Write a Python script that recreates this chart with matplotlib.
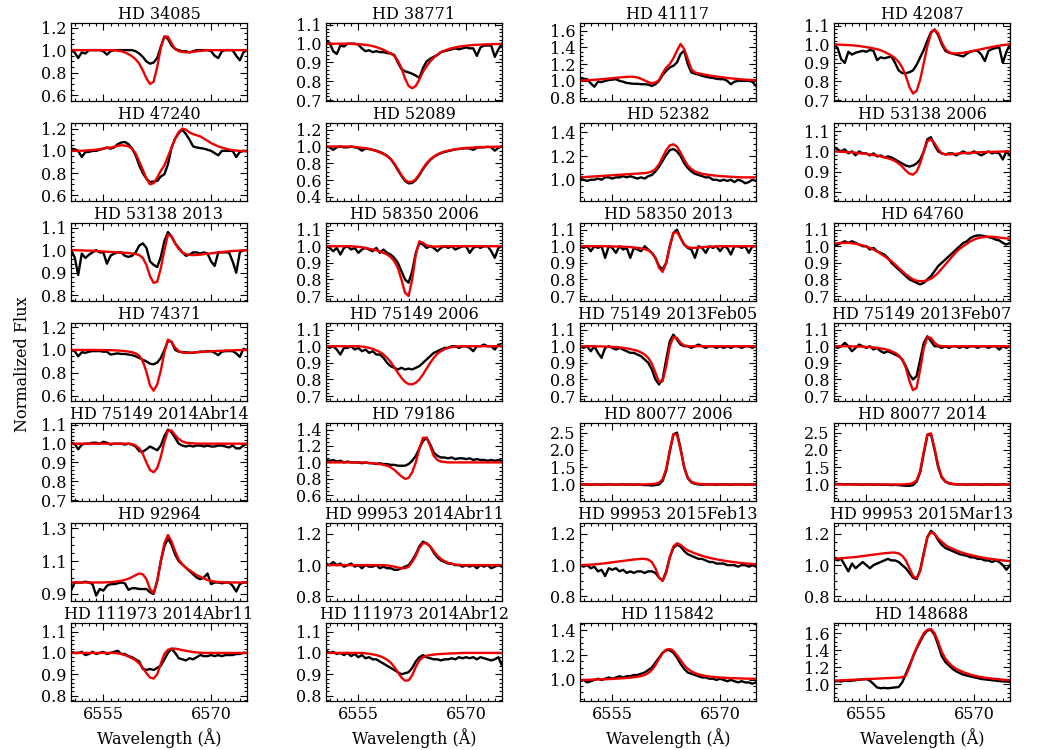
import matplotlib
matplotlib.use("Agg")
import matplotlib.pyplot as plt
from matplotlib.ticker import AutoMinorLocator, MultipleLocator, FormatStrFormatter

plt.rcParams['font.family'] = ['DejaVu Serif']

WAVE = [6550.5, 6551.0, 6551.5, 6552.0, 6552.5, 6553.0, 6553.5, 6554.0, 6554.5, 6555.0,
        6555.5, 6556.0, 6556.5, 6557.0, 6557.5, 6558.0, 6558.5, 6559.0, 6559.5, 6560.0,
        6560.5, 6561.0, 6561.5, 6562.0, 6562.5, 6563.0, 6563.5, 6564.0, 6564.5, 6565.0,
        6565.5, 6566.0, 6566.5, 6567.0, 6567.5, 6568.0, 6568.5, 6569.0, 6569.5, 6570.0,
        6570.5, 6571.0, 6571.5, 6572.0, 6572.5, 6573.0, 6573.5, 6574.0, 6574.5, 6575.0]

TITLES = ["HD 34085", "HD 38771", "HD 41117", "HD 42087",
          "HD 47240", "HD 52089", "HD 52382", "HD 53138 2006",
          "HD 53138 2013", "HD 58350 2006", "HD 58350 2013", "HD 64760",
          "HD 74371", "HD 75149 2006", "HD 75149 2013Feb05", "HD 75149 2013Feb07",
          "HD 75149 2014Abr14", "HD 79186", "HD 80077 2006", "HD 80077 2014",
          "HD 92964", "HD 99953 2014Abr11", "HD 99953 2015Feb13", "HD 99953 2015Mar13",
          "HD 111973 2014Abr11", "HD 111973 2014Abr12", "HD 115842", "HD 148688"]

YLIMS = [(0.55, 1.24), (0.695, 1.11), (0.76, 1.69), (0.695, 1.115),
         (0.55, 1.25), (0.35, 1.28), (0.82, 1.48), (0.755, 1.14),
         (0.775, 1.12), (0.67, 1.14), (0.67, 1.14), (0.67, 1.14),
         (0.555, 1.235), (0.67, 1.14), (0.67, 1.14), (0.67, 1.14),
         (0.695, 1.11), (0.53, 1.48), (0.52, 2.78), (0.52, 2.78),
         (0.857, 1.333), (0.77, 1.27), (0.77, 1.27), (0.77, 1.27),
         (0.775, 1.14), (0.775, 1.14), (0.83, 1.46), (0.8, 1.72)]

T_A = [0.6, 0.8, 1.0, 1.2]
T_B = [0.7, 0.8, 0.9, 1.0, 1.1]
T_C = [0.8, 0.9, 1.0, 1.1]
T_D = [0.8, 1.0, 1.2]
YTICKS = [T_A, T_B, [0.8, 1.0, 1.2, 1.4, 1.6], T_B,
          T_A, [0.4, 0.6, 0.8, 1.0, 1.2], [1.0, 1.2, 1.4], T_C,
          T_C, T_B, T_B, T_B,
          T_A, T_B, T_B, T_B,
          T_B, [0.6, 0.8, 1.0, 1.2, 1.4], [1.0, 1.5, 2.0, 2.5], [1.0, 1.5, 2.0, 2.5],
          [0.9, 1.1, 1.3], T_D, T_D, T_D,
          T_C, T_C, [1.0, 1.2, 1.4], [1.0, 1.2, 1.4, 1.6]]

XTICKS = [6555, 6570]

obs01 = [1.0,0.98,0.93,0.98,0.97,1.0,1.0,1.0,1.0,0.99, 0.96,0.99,1.0,1.0,1.0,1.0,1.0,1.0,0.99,0.97,
         0.94,0.9,0.88,0.89,0.93,1.03,1.12,1.10,1.04,1.01, 1.0,0.99,0.99,0.98,0.99,1.0,1.0,1.0,1.0,0.99,
         0.95,0.93,0.99,1.0,1.0,1.0,0.95,0.91,0.98,1.0]
mod01 = [1.0,1.0,1.0,1.0,1.0,1.0,1.0,1.0,1.0,1.0, 1.0,1.0,1.0,0.995,0.99,0.98,0.965,0.945,0.92,0.88,
         0.82,0.75,0.70,0.72,0.85,1.02,1.12,1.12,1.06,1.01, 0.99,0.985,0.98,0.982,0.985,0.99,0.993,0.997,1.0,1.0,
         1.0,1.0,1.0,1.0,1.0,1.0,1.0,1.0,1.0,1.0]

obs02 = [1.01,1.005,0.96,0.945,0.99,0.985,1.0,1.0,1.0,0.995, 0.975,0.96,0.965,0.955,0.96,0.955,0.955,0.95,0.948,0.94,
         0.9,0.865,0.853,0.847,0.84,0.83,0.818,0.87,0.905,0.92, 0.93,0.94,0.955,0.96,0.965,0.97,0.975,0.97,0.975,0.98,
         0.975,0.975,0.935,0.98,0.99,0.99,0.99,0.93,0.97,1.0]
mod02 = [1.0,1.0,1.0,1.0,1.0,1.0,1.0,0.999,0.998,0.997, 0.996,0.994,0.991,0.987,0.982,0.975,0.967,0.958,0.948,0.935,
         0.91,0.87,0.815,0.775,0.763,0.775,0.81,0.85,0.88,0.905, 0.925,0.94,0.955,0.963,0.97,0.976,0.98,0.984,0.987,0.989,
         0.991,0.993,0.994,0.995,0.996,0.997,0.997,0.998,0.998,0.999]

obs03 = [1.03,1.025,1.02,0.97,0.93,0.99,0.985,1.0,1.01,1.015, 1.02,1.0,0.99,0.975,0.97,0.965,0.965,0.96,0.96,0.955,
         0.94,0.96,1.0,1.07,1.12,1.16,1.18,1.22,1.32,1.36, 1.2,1.1,1.085,1.075,1.06,1.05,1.04,1.035,1.025,1.02,
         1.02,1.0,0.96,0.99,1.0,1.0,1.0,1.0,0.99,0.94]
mod03 = [1.0,1.005,1.008,1.01,1.013,1.016,1.02,1.024,1.028,1.032, 1.036,1.04,1.044,1.048,1.05,1.048,1.04,1.025,1.005,0.985,
         0.972,0.98,1.01,1.09,1.16,1.2,1.27,1.36,1.44,1.38, 1.26,1.14,1.1,1.09,1.08,1.072,1.065,1.058,1.052,1.046,
         1.04,1.035,1.03,1.026,1.022,1.018,1.015,1.012,1.01,1.008]

obs04 = [1.0,0.98,0.92,0.90,0.96,0.945,0.955,0.96,0.965,0.96, 0.97,0.965,0.915,0.93,0.925,0.93,0.935,0.9,0.86,0.845,
         0.845,0.85,0.86,0.89,0.93,0.97,1.02,1.065,1.08,1.05, 1.0,0.965,0.955,0.95,0.945,0.94,0.935,0.95,0.96,0.965,
         0.965,0.945,0.91,0.965,0.975,0.98,0.985,0.9,0.96,1.0]
mod04 = [1.0,0.999,0.998,0.997,0.996,0.995,0.993,0.991,0.988,0.985, 0.982,0.978,0.974,0.968,0.96,0.95,0.94,0.925,0.905,0.875,
         0.83,0.77,0.735,0.75,0.81,0.9,0.99,1.06,1.08,1.06, 1.01,0.975,0.957,0.952,0.951,0.952,0.955,0.958,0.962,0.966,
         0.97,0.974,0.978,0.982,0.986,0.99,0.993,0.996,0.998,1.0]

obs05 = [1.02,1.015,1.0,0.945,0.99,0.99,1.0,1.0,1.01,1.02, 1.03,1.02,1.03,1.06,1.075,1.08,1.06,1.02,0.96,0.87,
         0.8,0.75,0.72,0.725,0.73,0.77,0.79,0.88,1.03,1.11, 1.16,1.19,1.15,1.1,1.04,1.03,1.025,1.02,1.01,1.0,
         0.98,0.96,1.0,1.0,1.0,1.0,0.945,0.99,1.0,1.0]
mod05 = [1.0,1.0,1.0,1.001,1.003,1.005,1.008,1.011,1.015,1.02, 1.025,1.03,1.036,1.045,1.05,1.048,1.04,1.02,0.975,0.905,
         0.83,0.75,0.70,0.71,0.76,0.82,0.87,0.95,1.03,1.11, 1.17,1.2,1.19,1.165,1.15,1.14,1.13,1.11,1.09,1.07,
         1.055,1.04,1.03,1.02,1.012,1.006,1.002,1.0,0.998,0.995]

obs06 = [1.0,0.99,0.96,0.99,1.0,0.99,0.99,1.0,0.99,0.98, 0.95,0.975,0.97,0.96,0.95,0.935,0.915,0.89,0.85,0.79,
         0.72,0.65,0.59,0.56,0.565,0.6,0.66,0.73,0.79,0.84, 0.875,0.9,0.92,0.935,0.945,0.955,0.965,0.97,0.975,0.98,
         0.975,0.96,0.985,0.99,0.99,0.995,0.99,0.95,0.985,1.0]
mod06 = [1.0,1.0,1.0,1.0,1.0,1.0,0.999,0.998,0.995,0.99, 0.985,0.98,0.97,0.96,0.945,0.93,0.91,0.885,0.85,0.8,
         0.73,0.66,0.6,0.575,0.58,0.61,0.67,0.74,0.8,0.845, 0.88,0.905,0.925,0.94,0.95,0.96,0.967,0.973,0.978,0.982,
         0.985,0.988,0.99,0.992,0.994,0.995,0.996,0.997,0.998,0.999]

obs07 = [1.01,1.0,0.99,1.0,1.0,1.01,1.0,1.02,1.02,1.01, 1.02,1.02,1.03,1.02,1.03,1.02,1.01,1.02,1.01,1.03,
         1.04,1.07,1.11,1.16,1.21,1.25,1.26,1.24,1.2,1.14, 1.1,1.07,1.05,1.04,1.03,1.02,1.02,1.0,1.0,0.99,
         1.0,0.99,1.0,0.98,1.0,0.99,0.97,0.98,1.0,0.99]
mod07 = [1.02,1.022,1.024,1.026,1.028,1.03,1.032,1.034,1.036,1.038, 1.04,1.042,1.044,1.046,1.048,1.05,1.052,1.054,1.056,1.06,
         1.07,1.09,1.13,1.19,1.25,1.29,1.3,1.28,1.23,1.17, 1.12,1.09,1.07,1.06,1.05,1.045,1.04,1.037,1.034,1.031,
         1.029,1.027,1.025,1.023,1.022,1.02,1.02,1.02,1.02,1.02]

obs08 = [1.02,1.01,1.0,1.01,0.99,1.0,0.98,1.0,0.99,0.99, 0.98,0.99,0.975,0.98,0.97,0.975,0.97,0.96,0.95,0.94,
         0.93,0.925,0.93,0.94,0.96,1.0,1.06,1.07,1.03,1.0, 0.99,0.985,0.99,0.99,0.98,0.99,1.0,0.99,0.99,1.0,
         0.99,0.98,0.99,1.0,0.99,0.995,0.99,0.96,1.0,0.98]
mod08 = [1.0,0.999,0.998,0.997,0.996,0.995,0.993,0.991,0.989,0.987, 0.985,0.982,0.979,0.975,0.971,0.966,0.96,0.952,0.94,0.925,
         0.905,0.89,0.885,0.9,0.94,1.0,1.05,1.06,1.04,1.01, 0.99,0.985,0.985,0.986,0.988,0.99,0.991,0.992,0.993,0.994,
         0.995,0.996,0.997,0.997,0.998,0.998,0.999,0.999,1.0,1.0]

obs09 = [1.0,0.97,0.89,0.985,0.965,0.98,0.99,1.0,0.99,0.99, 0.94,0.975,0.985,0.99,0.99,0.975,0.97,0.975,0.99,1.02,
         1.03,1.01,0.95,0.935,0.925,0.97,1.04,1.08,1.06,1.03, 1.01,0.99,0.975,0.98,0.99,0.99,0.985,0.99,0.985,0.95,
         0.93,0.99,0.99,0.99,0.99,0.95,0.9,0.99,1.0,1.0]
mod09 = [1.0,1.0,0.999,0.999,0.998,0.998,0.997,0.996,0.995,0.994, 0.993,0.992,0.991,0.99,0.989,0.988,0.987,0.985,0.983,0.978,
         0.965,0.935,0.885,0.855,0.86,0.92,1.0,1.07,1.06,1.03, 1.005,0.99,0.982,0.979,0.978,0.979,0.98,0.982,0.984,0.986,
         0.988,0.99,0.992,0.993,0.995,0.996,0.997,0.998,0.999,1.0]

obs10 = [1.0,0.99,0.97,0.99,0.95,0.99,1.0,0.98,0.99,0.96, 0.98,0.99,0.98,0.97,0.99,0.96,0.98,0.96,0.95,0.93,
         0.9,0.85,0.8,0.78,0.85,0.96,1.02,1.01,0.99,1.0, 0.99,0.97,0.99,1.0,0.99,1.0,0.98,0.99,1.0,1.0,
         0.96,0.99,1.0,0.99,1.0,1.0,0.97,0.93,0.99,1.0]
mod10 = [1.0,1.0,1.0,1.0,1.0,1.0,1.0,1.0,0.998,0.996, 0.994,0.99,0.985,0.98,0.975,0.97,0.96,0.95,0.935,0.91,
         0.87,0.8,0.72,0.70,0.8,0.95,1.03,1.02,1.005,1.0, 0.998,0.998,0.999,1.0,1.0,1.0,1.0,1.0,1.0,1.0,
         1.0,1.0,1.0,1.0,1.0,1.0,1.0,1.0,1.0,1.0]

obs11 = [1.0,0.99,1.0,0.97,1.0,0.99,1.0,0.93,1.0,0.99, 0.96,1.0,0.98,0.99,0.93,0.99,0.98,0.97,1.0,0.98,
         0.96,0.93,0.88,0.86,0.9,1.0,1.08,1.1,1.05,1.01, 0.99,0.98,0.93,1.0,0.99,0.96,1.0,0.99,1.0,0.97,
         1.0,0.99,0.95,1.0,1.0,0.99,1.0,0.96,1.0,1.0]
mod11 = [1.0,1.0,1.0,1.0,1.0,1.0,1.0,1.0,0.999,0.999, 0.998,0.998,0.997,0.996,0.995,0.993,0.99,0.987,0.982,0.975,
         0.96,0.93,0.87,0.845,0.9,1.0,1.08,1.085,1.05,1.01, 0.995,0.99,0.99,0.992,0.994,0.996,0.997,0.998,0.999,1.0,
         1.0,1.0,1.0,1.0,1.0,1.0,1.0,1.0,1.0,1.0]

obs12 = [1.0,1.01,1.02,1.03,1.02,1.03,1.02,1.01,1.0,1.0, 0.98,0.99,0.97,0.96,0.95,0.93,0.9,0.88,0.86,0.84,
         0.82,0.8,0.79,0.78,0.77,0.78,0.8,0.82,0.85,0.88, 0.9,0.92,0.94,0.96,0.98,1.0,1.02,1.03,1.05,1.06,
         1.065,1.065,1.06,1.055,1.05,1.04,1.035,1.02,1.01,1.02]
mod12 = [1.015,1.018,1.02,1.02,1.02,1.018,1.015,1.01,1.005,0.998, 0.99,0.98,0.968,0.955,0.94,0.925,0.91,0.89,0.87,0.85,
         0.83,0.815,0.8,0.792,0.79,0.79,0.795,0.805,0.82,0.84, 0.865,0.89,0.915,0.94,0.965,0.985,1.0,1.015,1.03,1.04,
         1.048,1.053,1.056,1.058,1.057,1.055,1.052,1.05,1.047,1.045]

obs13 = [1.0,0.99,0.945,0.98,0.975,0.985,0.99,0.99,0.99,0.985, 0.985,0.96,0.965,0.97,0.965,0.965,0.96,0.955,0.945,0.93,
         0.915,0.9,0.88,0.875,0.89,0.93,1.0,1.08,1.07,1.0, 0.985,0.98,0.98,0.975,0.975,0.98,0.985,0.985,0.99,0.99,
         0.975,0.955,0.985,0.99,0.99,0.99,0.97,0.94,1.01,1.0]
mod13 = [1.0,1.0,1.0,1.0,1.0,1.0,1.0,1.0,0.999,0.999, 0.998,0.998,0.997,0.995,0.993,0.99,0.986,0.98,0.97,0.95,
         0.9,0.81,0.69,0.645,0.7,0.82,0.98,1.09,1.07,1.02, 0.99,0.978,0.975,0.976,0.978,0.98,0.982,0.984,0.986,0.988,
         0.99,0.992,0.993,0.995,0.996,0.997,0.998,0.999,1.0,1.0]

obs14 = [1.0,0.99,1.0,0.98,0.95,0.99,0.99,1.0,0.98,0.99, 0.97,0.98,0.96,0.97,0.95,0.95,0.93,0.9,0.88,0.87,
         0.86,0.87,0.86,0.865,0.86,0.87,0.88,0.9,0.92,0.94, 0.96,0.97,0.98,0.99,0.99,1.0,1.0,0.99,1.0,1.0,
         0.99,0.97,1.0,1.0,1.01,1.0,1.0,0.98,1.01,1.0]
mod14 = [1.0,1.0,1.0,1.0,1.0,1.0,1.0,1.0,1.0,1.0, 0.998,0.995,0.99,0.985,0.975,0.965,0.95,0.93,0.905,0.875,
         0.84,0.81,0.785,0.772,0.77,0.78,0.8,0.83,0.865,0.9, 0.93,0.955,0.97,0.982,0.99,0.995,0.998,1.0,1.0,1.0,
         1.0,1.0,1.0,1.0,1.0,1.0,1.0,1.0,1.0,1.0]

obs15 = [1.0,0.99,1.0,0.97,1.0,0.96,0.93,0.99,1.0,0.99, 0.98,0.99,0.98,0.97,0.96,0.96,0.95,0.94,0.92,0.9,
         0.86,0.8,0.77,0.8,0.92,1.03,1.07,1.04,1.01,1.0, 1.0,0.99,1.0,1.01,1.0,0.99,1.0,1.0,0.99,1.0,
         0.99,1.0,0.99,1.0,1.0,0.99,1.0,1.0,0.99,1.0]
mod15 = [1.0,1.0,1.0,1.0,1.0,0.999,0.999,0.998,0.997,0.996, 0.995,0.993,0.99,0.987,0.983,0.978,0.972,0.963,0.95,0.93,
         0.895,0.84,0.785,0.79,0.88,1.0,1.055,1.05,1.02,1.005, 1.0,1.0,1.0,1.0,1.0,1.0,1.0,1.0,1.0,1.0,
         1.0,1.0,1.0,1.0,1.0,1.0,1.0,1.0,1.0,1.0]

obs16 = [1.0,0.99,1.0,1.02,1.0,0.97,0.99,1.01,1.0,0.99, 1.0,0.98,0.99,0.97,0.96,0.97,0.96,0.95,0.94,0.92,
         0.88,0.83,0.8,0.82,0.92,1.02,1.06,1.03,1.0,1.0, 0.99,1.0,0.99,1.0,1.0,0.99,1.0,0.99,1.0,1.0,
         0.99,1.0,1.0,0.99,1.0,1.0,0.98,1.0,0.99,1.0]
mod16 = [1.0,1.0,1.0,1.0,1.0,0.999,0.999,0.998,0.997,0.996, 0.995,0.993,0.99,0.987,0.983,0.978,0.97,0.96,0.945,0.92,
         0.87,0.79,0.735,0.75,0.86,0.99,1.055,1.05,1.02,1.005, 1.0,1.0,1.0,1.0,1.0,1.0,1.0,1.0,1.0,1.0,
         1.0,1.0,1.0,1.0,1.0,1.0,1.0,1.0,1.0,1.0]

obs17 = [1.005,1.0,0.97,0.995,1.0,1.0,1.005,1.005,1.0,1.01, 1.005,0.995,1.0,1.0,1.0,0.995,1.0,0.995,0.985,0.96,
         0.958,0.97,0.985,0.975,0.965,0.99,1.04,1.075,1.06,1.03, 1.0,0.99,0.985,0.99,0.985,0.99,0.99,0.985,0.99,0.985,
         0.985,0.99,0.99,0.985,0.98,0.99,0.975,0.975,0.99,1.0]
mod17 = [1.0,1.0,1.0,1.0,1.0,1.0,1.0,1.0,1.0,1.0, 1.0,1.0,1.0,1.0,1.0,1.0,1.0,0.998,0.99,0.975,
         0.945,0.9,0.86,0.848,0.87,0.93,1.01,1.07,1.07,1.045, 1.025,1.012,1.005,1.003,1.002,1.0,1.0,1.0,1.0,1.0,
         1.0,1.0,1.0,1.0,1.0,1.0,1.0,1.0,1.0,1.0]

obs18 = [1.03,1.02,1.03,1.01,1.02,1.0,1.01,1.0,1.0,1.0, 0.99,1.0,0.99,0.99,0.98,0.99,0.98,0.98,0.97,0.97,
         0.96,0.96,0.96,0.98,1.02,1.08,1.17,1.26,1.3,1.22, 1.12,1.08,1.06,1.06,1.05,1.06,1.04,1.05,1.05,1.04,
         1.05,1.03,1.04,1.03,1.03,1.02,1.03,1.02,1.03,1.02]
mod18 = [1.0,1.0,1.0,1.0,1.0,1.0,1.0,1.0,1.0,1.0, 1.0,0.998,0.995,0.99,0.985,0.98,0.97,0.96,0.94,0.91,
         0.87,0.83,0.8,0.81,0.88,1.0,1.17,1.3,1.3,1.2, 1.08,1.03,1.01,1.005,1.0,1.0,1.0,1.0,1.0,1.0,
         1.0,1.0,1.0,1.0,1.0,1.0,1.0,1.0,1.0,1.0]

obs19 = [1.0,1.0,1.0,0.99,1.0,1.0,0.99,1.0,1.0,1.0, 0.99,1.0,1.0,0.99,1.0,0.99,1.0,0.99,0.98,0.98,
         0.97,0.98,1.0,1.1,1.4,1.95,2.45,2.5,2.05,1.5, 1.18,1.06,1.02,1.0,0.99,1.0,1.0,1.0,0.99,1.0,
         1.0,1.0,0.99,1.0,1.0,1.0,0.99,1.0,1.0,1.0]
mod19 = [1.0,1.0,1.0,1.0,1.0,1.0,1.0,1.0,1.0,1.0, 1.0,1.0,1.0,1.0,1.0,1.0,1.0,1.0,1.0,1.005,
         1.01,1.02,1.05,1.15,1.45,2.0,2.45,2.45,2.0,1.5, 1.2,1.08,1.04,1.02,1.01,1.005,1.0,1.0,1.0,1.0,
         1.0,1.0,1.0,1.0,1.0,1.0,1.0,1.0,1.0,1.0]

obs20 = [1.02,1.01,1.01,1.0,1.01,1.0,1.0,1.0,0.99,1.0, 1.0,0.99,1.0,0.99,0.99,0.99,0.98,0.99,0.98,0.97,
         0.96,0.96,0.98,1.08,1.35,1.9,2.42,2.45,2.0,1.5, 1.2,1.08,1.03,1.01,1.0,1.0,1.0,0.99,1.0,1.0,
         1.0,0.99,1.0,1.0,1.0,0.99,1.0,1.0,1.0,1.0]
mod20 = [1.0,1.0,1.0,1.0,1.0,1.0,1.0,1.0,1.0,1.0, 1.0,1.0,1.0,1.0,1.0,1.0,1.0,1.0,1.0,1.0,
         1.005,1.015,1.04,1.12,1.4,1.95,2.45,2.48,2.05,1.55, 1.22,1.09,1.04,1.02,1.01,1.005,1.0,1.0,1.0,1.0,
         1.0,1.0,1.0,1.0,1.0,1.0,1.0,1.0,1.0,1.0]

obs21 = [0.92,0.97,0.97,0.97,0.975,0.97,0.96,0.89,0.93,0.92, 0.95,0.96,0.96,0.965,0.97,0.965,0.925,0.935,0.935,0.93,
         0.93,0.93,0.91,0.9,0.98,1.1,1.19,1.24,1.2,1.14, 1.1,1.08,1.06,1.04,1.02,1.0,0.99,1.0,1.025,0.96,
         0.97,0.97,0.965,0.97,0.97,0.95,0.915,0.96,0.97,0.97]
mod21 = [0.97,0.97,0.97,0.97,0.97,0.97,0.97,0.97,0.97,0.97, 0.971,0.972,0.974,0.977,0.981,0.986,0.993,1.003,1.015,1.025,
         1.02,0.99,0.93,0.905,0.98,1.1,1.21,1.26,1.22,1.16, 1.11,1.08,1.06,1.045,1.03,1.015,1.005,0.995,0.985,0.98,
         0.975,0.973,0.972,0.971,0.97,0.97,0.97,0.97,0.97,0.97]

obs22 = [1.01,1.0,1.02,1.0,1.01,0.99,1.0,1.01,0.99,1.0, 0.98,1.0,0.99,0.99,1.0,0.98,0.99,0.98,0.98,0.97,
         0.97,0.98,0.99,1.0,1.03,1.07,1.12,1.15,1.14,1.12, 1.08,1.05,1.03,1.02,1.01,1.01,1.0,1.0,0.99,1.0,
         0.99,1.0,0.98,1.0,0.99,1.0,0.98,0.99,1.0,0.99]
mod22 = [1.0,1.0,1.0,1.0,1.0,1.0,1.0,1.0,1.0,1.0, 1.0,1.0,1.0,1.0,1.0,1.0,1.0,0.998,0.995,0.99,
         0.985,0.98,0.98,0.99,1.02,1.06,1.11,1.14,1.14,1.12, 1.09,1.06,1.04,1.025,1.015,1.008,1.004,1.002,1.0,1.0,
         1.0,1.0,1.0,1.0,1.0,1.0,1.0,1.0,1.0,1.0]

obs23 = [1.0,0.99,1.0,0.98,0.99,0.96,0.97,0.93,0.98,0.97, 0.98,0.96,0.97,0.95,0.96,0.95,0.96,0.96,0.95,0.96,
         0.96,0.95,0.92,0.9,0.96,1.05,1.11,1.13,1.12,1.09, 1.07,1.06,1.05,1.04,1.04,1.03,1.02,1.02,1.01,1.01,
         1.01,1.0,1.0,1.0,0.99,1.0,1.0,0.99,1.0,0.99]
mod23 = [1.0,1.001,1.002,1.003,1.005,1.007,1.009,1.012,1.015,1.018, 1.021,1.024,1.027,1.03,1.033,1.036,1.038,1.04,1.04,1.035,
         1.02,0.98,0.92,0.9,0.95,1.05,1.12,1.14,1.13,1.11, 1.095,1.085,1.075,1.067,1.06,1.053,1.047,1.042,1.037,1.033,
         1.029,1.025,1.022,1.019,1.016,1.013,1.011,1.009,1.007,1.005]

obs24 = [1.04,1.03,1.04,1.0,0.96,1.01,0.98,1.0,1.02,1.0, 0.98,1.0,1.01,1.02,1.03,1.04,1.03,1.03,1.02,1.0,
         0.98,0.95,0.92,0.91,0.97,1.08,1.18,1.22,1.2,1.16, 1.13,1.11,1.1,1.09,1.08,1.07,1.065,1.06,1.05,1.05,
         1.04,1.04,1.03,1.03,1.02,1.03,1.02,1.0,0.97,1.0]
mod24 = [1.04,1.042,1.044,1.046,1.048,1.05,1.052,1.055,1.058,1.061, 1.064,1.067,1.07,1.073,1.076,1.078,1.08,1.08,1.075,1.06,
         1.03,0.98,0.93,0.915,0.96,1.07,1.18,1.21,1.2,1.17, 1.15,1.13,1.115,1.105,1.095,1.085,1.078,1.071,1.065,1.06,
         1.055,1.05,1.046,1.042,1.039,1.036,1.033,1.03,1.028,1.026]

obs25 = [1.005,1.0,1.0,1.005,0.99,0.995,1.005,0.995,1.0,1.005, 0.995,1.0,1.005,1.01,0.995,0.995,0.985,0.98,0.97,0.96,
         0.925,0.92,0.925,0.92,0.93,0.94,0.97,1.0,1.02,1.0, 0.975,0.97,0.965,0.975,0.97,0.98,0.99,0.985,0.985,0.99,
         0.985,0.99,0.985,0.99,0.99,0.99,0.995,0.995,1.0,1.0]
mod25 = [1.0,1.0,1.0,1.0,1.0,1.0,1.0,1.0,1.0,1.0, 1.0,1.0,1.0,0.998,0.995,0.99,0.983,0.975,0.965,0.95,
         0.93,0.905,0.885,0.88,0.9,0.95,0.995,1.015,1.02,1.02, 1.017,1.013,1.01,1.007,1.004,1.002,1.001,1.0,1.0,1.0,
         1.0,1.0,1.0,1.0,1.0,1.0,1.0,1.0,1.0,1.0]

obs26 = [1.01,1.0,1.005,0.995,1.0,0.99,1.0,0.985,0.995,0.98, 0.99,0.975,0.98,0.97,0.97,0.96,0.95,0.94,0.93,0.92,
         0.91,0.9,0.905,0.91,0.93,0.96,0.98,0.99,0.98,0.975, 0.97,0.97,0.965,0.97,0.97,0.975,0.97,0.98,0.975,0.98,
         0.975,0.98,0.97,0.98,0.975,0.97,0.965,0.97,0.98,0.94]
mod26 = [1.0,1.0,1.0,1.0,1.0,1.0,1.0,1.0,1.0,1.0, 1.0,0.998,0.996,0.993,0.99,0.985,0.978,0.968,0.955,0.935,
         0.91,0.885,0.87,0.872,0.895,0.935,0.965,0.98,0.987,0.99, 0.992,0.994,0.995,0.996,0.997,0.998,0.998,0.999,1.0,1.0,
         1.0,1.0,1.0,1.0,1.0,1.0,1.0,1.0,1.0,1.0]

obs27 = [0.99,1.0,0.98,0.99,1.0,1.01,1.0,1.01,1.02,1.01, 1.02,1.03,1.02,1.03,1.03,1.04,1.04,1.05,1.06,1.08,
         1.1,1.14,1.18,1.22,1.24,1.24,1.22,1.18,1.13,1.09, 1.06,1.05,1.04,1.03,1.02,1.02,1.01,1.01,1.0,1.01,
         1.0,0.99,1.0,0.99,0.98,0.99,0.98,0.98,0.97,0.98]
mod27 = [1.0,1.0,1.001,1.002,1.003,1.004,1.005,1.006,1.007,1.008, 1.01,1.012,1.014,1.016,1.019,1.022,1.026,1.031,1.04,1.055,
         1.08,1.12,1.17,1.215,1.245,1.25,1.235,1.2,1.16,1.12, 1.09,1.07,1.055,1.045,1.038,1.032,1.028,1.025,1.022,1.02,
         1.018,1.016,1.015,1.014,1.013,1.012,1.011,1.01,1.01,1.01]

obs28 = [1.03,1.035,1.03,1.04,1.035,1.04,1.045,1.05,1.055,1.06, 1.04,1.0,0.96,0.95,0.955,0.95,0.955,0.96,0.965,1.02,
         1.12,1.22,1.32,1.42,1.5,1.58,1.63,1.64,1.58,1.46, 1.33,1.26,1.22,1.18,1.15,1.13,1.11,1.1,1.09,1.08,
         1.07,1.06,1.055,1.05,1.045,1.04,1.035,1.03,1.03,1.025]
mod28 = [1.04,1.042,1.044,1.046,1.048,1.05,1.052,1.054,1.056,1.058, 1.06,1.062,1.064,1.066,1.068,1.07,1.072,1.074,1.076,1.08,
         1.1,1.2,1.33,1.43,1.52,1.6,1.64,1.65,1.6,1.5, 1.38,1.3,1.25,1.21,1.18,1.16,1.14,1.125,1.11,1.1,
         1.09,1.082,1.075,1.07,1.065,1.06,1.056,1.052,1.048,1.045]

OBS = [obs01, obs02, obs03, obs04, obs05, obs06, obs07, obs08, obs09, obs10,
       obs11, obs12, obs13, obs14, obs15, obs16, obs17, obs18, obs19, obs20,
       obs21, obs22, obs23, obs24, obs25, obs26, obs27, obs28]
MOD = [mod01, mod02, mod03, mod04, mod05, mod06, mod07, mod08, mod09, mod10,
       mod11, mod12, mod13, mod14, mod15, mod16, mod17, mod18, mod19, mod20,
       mod21, mod22, mod23, mod24, mod25, mod26, mod27, mod28]

W, H = 1050, 750
fig = plt.figure(figsize=(W / 100, H / 100), dpi=100)
col_left = [71, 326, 580, 834]
ax_w, ax_h = 176, 78

for k in range(28):
    r, c = divmod(k, 4)
    top = 23 + 100 * r
    ax = fig.add_axes([col_left[c] / W, 1 - (top + ax_h) / H, ax_w / W, ax_h / H])
    ax.plot(WAVE, OBS[k], color='black', lw=1.7)
    ax.plot(WAVE, MOD[k], color='#ee0000', lw=1.7)
    ax.set_xlim(6550.5, 6575.0)
    ax.set_ylim(*YLIMS[k])
    ax.set_xticks(XTICKS)
    ax.xaxis.set_minor_locator(MultipleLocator(1.0))
    ax.set_yticks(YTICKS[k])
    ax.yaxis.set_minor_locator(AutoMinorLocator())
    ax.yaxis.set_major_formatter(FormatStrFormatter('%.1f'))
    ax.tick_params(which='both', direction='in', top=True, right=True, labelsize=11.5, width=0.8)
    ax.tick_params(which='major', length=5)
    ax.tick_params(which='minor', length=2.5)
    for s in ax.spines.values():
        s.set_linewidth(0.9)
    ax.set_title(TITLES[k], fontsize=11.5, pad=3)
    if r < 6:
        ax.set_xticklabels([])
    else:
        ax.set_xlabel('Wavelength (Å)', fontsize=11.5, labelpad=4)

fig.text(0.021, 0.515, 'Normalized Flux', rotation=90, ha='center', va='center', fontsize=11.5)
fig.savefig('out.png', dpi=100, facecolor='white')
